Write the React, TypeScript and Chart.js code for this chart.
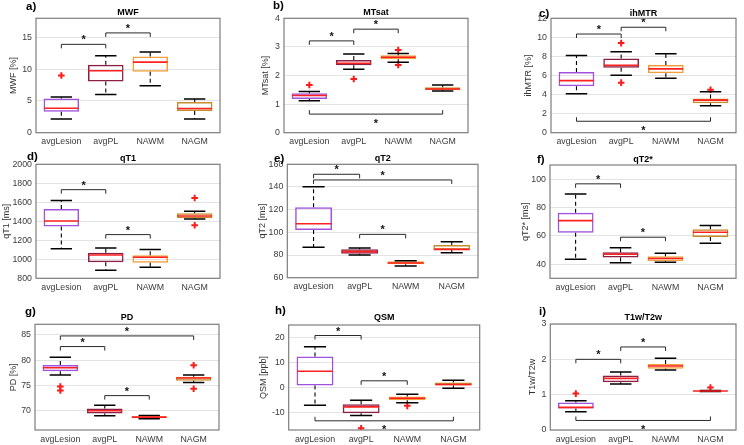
import React, { useEffect, useRef } from 'react';
import { Chart, registerables } from 'chart.js';

Chart.register(...registerables);

const groups = ['avgLesion', 'avgPL', 'NAWM', 'NAGM'];

// five-number summaries per group: [lower whisker, q1, median, q3, upper whisker]
const mwfStats = [[2.15, 3.3, 3.85, 5.4, 5.6], [6.0, 8.05, 9.75, 10.7, 12.1], [7.4, 9.6, 11.1, 12.0, 12.7], [2.15, 3.4, 3.8, 4.85, 5.3]];
const mwfOutliers = [[9.0], [], [], []];
const mwfSig = [[0, 1, 13.9, 1], [1, 2, 15.7, 1]]; // [from, to, level, 1 = ticks down / -1 = ticks up]
const mwfTicks = [0, 5, 10, 15];
const mwfRange = [0, 18];

const mtsatStats = [[1.12, 1.18, 1.3, 1.38, 1.44], [2.22, 2.36, 2.43, 2.54, 2.75], [2.46, 2.57, 2.64, 2.71, 2.77], [1.46, 1.49, 1.53, 1.59, 1.67]];
const mtsatOutliers = [[1.67], [1.88], [2.89, 2.37], []];
const mtsatSig = [[0, 1, 3.21, 1], [1, 2, 3.62, 1], [0, 3, 0.65, -1]];
const mtsatTicks = [0, 1, 2, 3, 4];
const mtsatRange = [0, 4];

const ihmtrStats = [[4.08, 4.86, 5.46, 6.37, 8.1], [6.02, 6.8, 7.08, 7.78, 8.49], [5.7, 6.23, 6.69, 7.11, 8.27], [2.82, 3.1, 3.42, 3.59, 4.3]];
const ihmtrOutliers = [[], [9.4, 5.25], [], [4.5]];
const ihmtrSig = [[0, 1, 10.35, 1], [1, 2, 11.06, 1], [0, 3, 1.2, -1]];
const ihmtrTicks = [0, 2, 4, 6, 8, 10, 12];
const ihmtrRange = [0, 12];

const qt1Stats = [[1112, 1344, 1403, 1530, 1618], [884, 968, 1046, 1070, 1119], [916, 965, 1021, 1042, 1102], [1425, 1432, 1456, 1484, 1505]];
const qt1Outliers = [[], [], [], [1646, 1358]];
const qt1Sig = [[0, 1, 1733, 1], [1, 2, 1260, 1]];
const qt1Ticks = [800, 1000, 1200, 1400, 1600, 1800, 2000];
const qt1Range = [800, 2000];

const qt2Stats = [[86.8, 102, 107.6, 122.1, 140.3], [80, 81.2, 83, 85, 86.2], [70.3, 71.8, 73, 74.4, 75], [82, 84.7, 85, 88.8, 91.8]];
const qt2Outliers = [[], [], [], []];
const qt2Sig = [[0, 1, 151.2, 1], [0, 3, 146.2, 1], [1, 2, 98.2, 1]];
const qt2Ticks = [60, 80, 100, 120, 140, 160];
const qt2Range = [60, 160];

const qt2sStats = [[43.5, 62.2, 70.7, 76.3, 89.6], [41, 44.7, 47, 48.4, 51.5], [41.4, 42.1, 44, 45.6, 47.7], [54.8, 59.2, 62.5, 64.6, 67.2]];
const qt2sOutliers = [[], [], [], []];
const qt2sSig = [[0, 1, 96.7, 1], [1, 2, 59, 1]];
const qt2sTicks = [40, 60, 80, 100];
const qt2sRange = [30, 110];

const pdStats = [[77.07, 77.8, 78.5, 79.05, 80.6], [69.0, 69.47, 70, 70.46, 71.1], [68.4, 68.55, 68.74, 68.94, 69.07], [75.6, 75.95, 76.48, 76.74, 77.07]];
const pdOutliers = [[74.8, 74.0], [], [], [79.0, 74.36]];
const pdSig = [[0, 3, 84.8, 1], [0, 1, 82.7, 1], [1, 2, 73.0, 1]];
const pdTicks = [70, 75, 80, 85];
const pdRange = [66.2, 87.1];

const qsmStats = [[-7.07, 0.8, 6.5, 12.4, 16.3], [-11.2, -10.27, -7.73, -6.67, -5.07], [-6.13, -5.07, -4.27, -3.6, -2.67], [-0.27, 0.8, 1.2, 2.0, 2.93]];
const qsmOutliers = [[], [-16.3], [-7.33], []];
const qsmSig = [[0, 1, 20.8, 1], [1, 2, 2.67, 1], [0, 3, -13.33, -1]];
const qsmTicks = [-10, 0, 10, 20];
const qsmRange = [-17, 25];

const t1t2Stats = [[0.52, 0.61, 0.64, 0.78, 0.83], [1.3, 1.35, 1.46, 1.54, 1.64], [1.7, 1.73, 1.81, 1.87, 2.03], [1.09, 1.1, 1.105, 1.11, 1.12]];
const t1t2Outliers = [[1.03], [], [], [1.2]];
const t1t2Sig = [[0, 1, 2.0, 1], [1, 2, 2.35, 1], [0, 3, 0.27, -1]];
const t1t2Ticks = [0, 1, 2, 3];
const t1t2Range = [0, 3];

// ---- styling / layout ----
const boxColors = ['#a052de', '#8c1f45', '#f0a03a', '#c68c2c'];
const FONT = "'Liberation Sans', Arial, Helvetica, sans-serif";
const TICK_COLOR = '#3a3a3a';
const X_MIN = 0.43;
const X_MAX = 4.57;

type PanelDef = {
  letter: string; title: string; yLabel: string;
  stats: number[][]; outliers: number[][]; sig: number[][]; ticks: number[]; range: number[];
  area: number[]; plot: number[]; letterPos: number[]; titleY: number; yTitleX: number;
};

const panels: PanelDef[] = [
  { letter: 'a)', title: 'MWF', yLabel: 'MWF [%]', stats: mwfStats, outliers: mwfOutliers, sig: mwfSig, ticks: mwfTicks, range: mwfRange,
    area: [0, 0, 246, 150], plot: [36, 18.3, 220, 132.7], letterPos: [26, 7], titleY: 12.3, yTitleX: 14 },
  { letter: 'b)', title: 'MTsat', yLabel: 'MTsat [%]', stats: mtsatStats, outliers: mtsatOutliers, sig: mtsatSig, ticks: mtsatTicks, range: mtsatRange,
    area: [246, 0, 248, 150], plot: [284, 18.3, 468, 132.7], letterPos: [273, 6], titleY: 12.3, yTitleX: 266 },
  { letter: 'c)', title: 'ihMTR', yLabel: 'ihMTR [%]', stats: ihmtrStats, outliers: ihmtrOutliers, sig: ihmtrSig, ticks: ihmtrTicks, range: ihmtrRange,
    area: [494, 0, 250, 150], plot: [551, 18.3, 736, 132.7], letterPos: [539, 14], titleY: 13.3, yTitleX: 529 },
  { letter: 'd)', title: 'qT1', yLabel: 'qT1 [ms]', stats: qt1Stats, outliers: qt1Outliers, sig: qt1Sig, ticks: qt1Ticks, range: qt1Range,
    area: [0, 150, 246, 153], plot: [36, 164.3, 220, 278.3], letterPos: [27, 157], titleY: 158.3, yTitleX: 7 },
  { letter: 'e)', title: 'qT2', yLabel: 'qT2 [ms]', stats: qt2Stats, outliers: qt2Outliers, sig: qt2Sig, ticks: qt2Ticks, range: qt2Range,
    area: [246, 150, 248, 153], plot: [287.3, 164.3, 478, 277.7], letterPos: [274, 159], titleY: 159, yTitleX: 263 },
  { letter: 'f)', title: 'qT2*', yLabel: 'qT2* [ms]', stats: qt2sStats, outliers: qt2sOutliers, sig: qt2sSig, ticks: qt2sTicks, range: qt2sRange,
    area: [494, 150, 250, 153], plot: [550, 165, 736, 278.3], letterPos: [537, 160], titleY: 160, yTitleX: 526 },
  { letter: 'g)', title: 'PD', yLabel: 'PD [%]', stats: pdStats, outliers: pdOutliers, sig: pdSig, ticks: pdTicks, range: pdRange,
    area: [0, 303, 246, 142], plot: [35, 324.3, 219, 430], letterPos: [25, 312], titleY: 317.7, yTitleX: 14 },
  { letter: 'h)', title: 'QSM', yLabel: 'QSM [ppb]', stats: qsmStats, outliers: qsmOutliers, sig: qsmSig, ticks: qsmTicks, range: qsmRange,
    area: [246, 303, 248, 142], plot: [288.7, 325, 479.7, 430], letterPos: [275, 311], titleY: 317.7, yTitleX: 264 },
  { letter: 'i)', title: 'T1w/T2w', yLabel: 'T1w/T2w', stats: t1t2Stats, outliers: t1t2Outliers, sig: t1t2Sig, ticks: t1t2Ticks, range: t1t2Range,
    area: [494, 303, 250, 142], plot: [550.3, 324, 736, 430], letterPos: [539, 312], titleY: 317.7, yTitleX: 533 },
];

const boxExtras = {
  id: 'boxExtras',
  afterDatasetsDraw(chart: any, _args: any, opts: any) {
    const p: PanelDef = opts.panel;
    if (!p) return;
    const { ctx, chartArea, scales } = chart;
    const x = scales.x;
    const y = scales.y;
    const meta = chart.getDatasetMeta(0);
    ctx.save();
    p.stats.forEach((s, i) => {
      const el = meta.data[i];
      const w = el ? el.getProps(['width'], true).width : 30;
      const cx = x.getPixelForValue(i + 1);
      const pLow = y.getPixelForValue(s[0]);
      const pQ1 = y.getPixelForValue(s[1]);
      const pMed = y.getPixelForValue(s[2]);
      const pQ3 = y.getPixelForValue(s[3]);
      const pHigh = y.getPixelForValue(s[4]);
      ctx.strokeStyle = '#000';
      ctx.lineWidth = 1.1;
      ctx.setLineDash([4, 3]);
      ctx.beginPath();
      ctx.moveTo(cx, pQ3); ctx.lineTo(cx, pHigh);
      ctx.moveTo(cx, pQ1); ctx.lineTo(cx, pLow);
      ctx.stroke();
      ctx.setLineDash([]);
      const cw = w * 0.3;
      ctx.lineWidth = 1.5;
      ctx.beginPath();
      ctx.moveTo(cx - cw, pHigh); ctx.lineTo(cx + cw, pHigh);
      ctx.moveTo(cx - cw, pLow); ctx.lineTo(cx + cw, pLow);
      ctx.stroke();
      ctx.strokeStyle = '#ff2020';
      ctx.lineWidth = 1.6;
      ctx.beginPath();
      ctx.moveTo(cx - w / 2 + 0.5, pMed); ctx.lineTo(cx + w / 2 - 0.5, pMed);
      ctx.stroke();
    });
    ctx.strokeStyle = '#2a2a2a';
    ctx.fillStyle = '#111';
    ctx.lineWidth = 1;
    ctx.font = `bold 11px ${FONT}`;
    ctx.textAlign = 'center';
    ctx.textBaseline = 'alphabetic';
    p.sig.forEach(([a, b, lvl, dir]) => {
      const x1 = x.getPixelForValue(a + 1);
      const x2 = x.getPixelForValue(b + 1);
      const py = y.getPixelForValue(lvl);
      const t = 4 * dir;
      ctx.beginPath();
      ctx.moveTo(x1, py + t); ctx.lineTo(x1, py); ctx.lineTo(x2, py); ctx.lineTo(x2, py + t);
      ctx.stroke();
      const starCenter = dir > 0 ? py - 6.5 : py + 7;
      ctx.fillText('*', (x1 + x2) / 2, starCenter + 0.5 * 11);
    });
    ctx.strokeStyle = '#7d7d7d';
    ctx.lineWidth = 1.2;
    ctx.strokeRect(chartArea.left, chartArea.top, chartArea.right - chartArea.left, chartArea.bottom - chartArea.top);
    ctx.restore();
  },
  afterDraw(chart: any, _args: any, opts: any) {
    const p: PanelDef = opts.panel;
    if (!p) return;
    const { ctx, chartArea } = chart;
    const [ax, ay] = p.area;
    ctx.save();
    ctx.fillStyle = '#000';
    ctx.textBaseline = 'middle';
    ctx.textAlign = 'center';
    ctx.font = `bold 9px ${FONT}`;
    ctx.fillText(p.title, (chartArea.left + chartArea.right) / 2, p.titleY - ay);
    ctx.textAlign = 'left';
    ctx.font = `bold 11.5px ${FONT}`;
    ctx.fillText(p.letter, p.letterPos[0] - ax, p.letterPos[1] - ay);
    ctx.restore();
  },
};

function makeConfig(p: PanelDef): any {
  const [cx, cy, cw, ch] = p.area;
  const [pl, pt, pr, pb] = p.plot;
  const boxData = p.stats.map((s, i) => ({ x: i + 1, y: [s[1], s[3]] }));
  const outData = p.outliers.flatMap((arr, i) => arr.map((v) => ({ x: i + 1, y: v })));
  const tickFont = { family: FONT, size: 8.8 };
  return {
    type: 'bar',
    data: {
      datasets: [
        {
          type: 'bar', data: boxData, backgroundColor: 'rgba(255,255,255,0)', borderColor: boxColors,
          borderWidth: 1.5, borderSkipped: false, barPercentage: 0.8, categoryPercentage: 1, order: 2,
        },
        {
          type: 'scatter', data: outData, pointStyle: 'cross', pointRadius: 3.3, pointBorderWidth: 2,
          borderColor: '#ff1a1a', backgroundColor: '#ff1a1a', order: 1,
        },
      ],
    },
    options: {
      animation: false,
      responsive: false,
      maintainAspectRatio: false,
      events: [],
      layout: { padding: { left: 0, top: pt - cy, right: cx + cw - pr, bottom: 0 } },
      plugins: {
        legend: { display: false },
        tooltip: { enabled: false },
        title: { display: false },
        boxExtras: { panel: p },
      },
      scales: {
        x: {
          type: 'linear', min: X_MIN, max: X_MAX, offset: false,
          grid: { display: false, drawTicks: false },
          border: { display: false },
          afterBuildTicks: (s: any) => { s.ticks = groups.map((_, i) => ({ value: i + 1 })); },
          ticks: {
            autoSkip: false, maxRotation: 0, minRotation: 0, padding: 4, color: TICK_COLOR, font: tickFont,
            callback: (v: any) => groups[Math.round(Number(v)) - 1] ?? '',
          },
          afterFit: (s: any) => { s.height = cy + ch - pb; },
        },
        y: {
          type: 'linear', min: p.range[0], max: p.range[1],
          grid: { color: '#e3e3e3', drawTicks: false, lineWidth: 1 },
          border: { display: false },
          afterBuildTicks: (s: any) => { s.ticks = p.ticks.map((v) => ({ value: v })); },
          ticks: { padding: 4, color: TICK_COLOR, font: tickFont, callback: (v: any) => String(v) },
          title: {
            display: true, text: p.yLabel, color: '#333',
            font: { family: FONT, size: 9, lineHeight: 1 },
            padding: { top: p.yTitleX - cx - 4.5, bottom: 0 },
          },
          afterFit: (s: any) => { s.width = pl - cx; },
        },
      },
    },
    plugins: [boxExtras],
  };
}

function Panel({ p }: { p: PanelDef }) {
  const ref = useRef<HTMLCanvasElement>(null);
  useEffect(() => {
    if (!ref.current) return;
    const chart = new Chart(ref.current, makeConfig(p));
    return () => chart.destroy();
  }, [p]);
  const [x, y, w, h] = p.area;
  return (
    <canvas
      ref={ref}
      width={w}
      height={h}
      style={{ position: 'absolute', left: x, top: y, width: w, height: h }}
    />
  );
}

export default function App() {
  return (
    <div style={{ position: 'absolute', left: 0, top: 0, width: 744, height: 445, background: '#fff', overflow: 'hidden' }}>
      {panels.map((p) => (
        <Panel key={p.letter} p={p} />
      ))}
    </div>
  );
}
